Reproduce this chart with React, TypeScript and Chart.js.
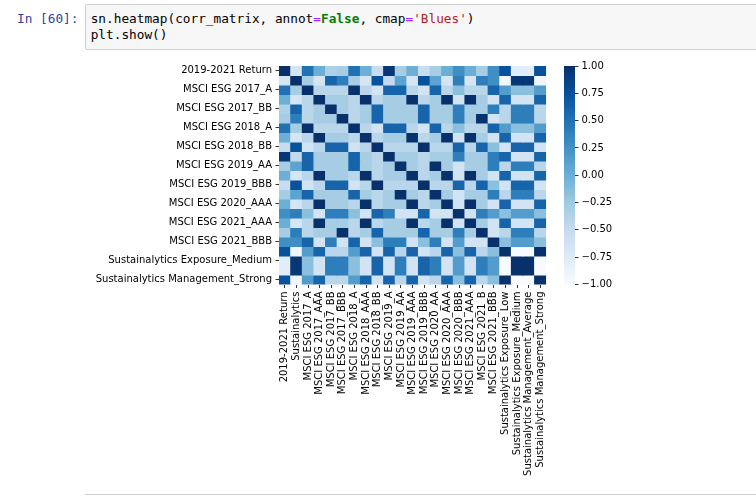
import React, { useEffect, useRef } from 'react';
import { Chart, registerables } from 'chart.js';

Chart.register(...registerables);

// ---------- data ----------
const variables = [
  '2019-2021 Return',
  'Sustainalytics',
  'MSCI ESG 2017_A',
  'MSCI ESG 2017_AAA',
  'MSCI ESG 2017_BB',
  'MSCI ESG 2017_BBB',
  'MSCI ESG 2018_A',
  'MSCI ESG 2018_AAA',
  'MSCI ESG 2018_BB',
  'MSCI ESG 2019_A',
  'MSCI ESG 2019_AA',
  'MSCI ESG 2019_AAA',
  'MSCI ESG 2019_BBB',
  'MSCI ESG 2020_AA',
  'MSCI ESG 2020_AAA',
  'MSCI ESG 2020_BBB',
  'MSCI ESG 2021_AAA',
  'MSCI ESG 2021_B',
  'MSCI ESG 2021_BBB',
  'Sustainalytics Exposure_Low',
  'Sustainalytics Exposure_Medium',
  'Sustainalytics Management_Average',
  'Sustainalytics Management_Strong',
];

const yTickLabels = [
  '2019-2021 Return',
  'MSCI ESG 2017_A',
  'MSCI ESG 2017_BB',
  'MSCI ESG 2018_A',
  'MSCI ESG 2018_BB',
  'MSCI ESG 2019_AA',
  'MSCI ESG 2019_BBB',
  'MSCI ESG 2020_AAA',
  'MSCI ESG 2021_AAA',
  'MSCI ESG 2021_BBB',
  'Sustainalytics Exposure_Medium',
  'Sustainalytics Management_Strong',
];

const colorbarTicks = [1, 0.75, 0.5, 0.25, 0, -0.25, -0.5, -0.75, -1];

const bluesStops = ['#f7fbff', '#deebf7', '#c6dbef', '#9ecae1', '#6baed6', '#4292c6', '#2171b5', '#08519c', '#08306b'];

// correlation rows
const corrReturn = [1, -0.65, 0.5, 0, -0.35, -0.3, 0.5, 0, -0.52, 0.95, -0.3, 0, -0.52, -0.3, 0, 0.27, 0, -0.3, 0.27, 0.75, -0.78, -0.78, 0.75];
const corrSustainalytics = [-0.65, 1, -0.3, -0.66, 0.6, 0.4, -0.3, -0.66, 0.75, -0.48, 0.1, -0.66, 0.75, 0.1, -0.66, 0.4, -0.66, 0.4, 0.27, -0.92, 0.95, 0.95, -0.92];
const corr2017A = [0.5, -0.3, 1, -0.42, -0.42, -0.42, 1, -0.42, -0.62, 0.6, 0.6, -0.42, -0.62, 0.6, -0.42, -0.15, -0.42, -0.42, 0.6, 0.15, -0.15, -0.15, 0.15];
const corr2017AAA = [0, -0.66, -0.42, 1, -0.3, -0.3, -0.42, 1, -0.42, -0.3, -0.3, 1, -0.42, -0.3, 1, -0.62, 1, -0.3, -0.62, 0.6, -0.62, -0.62, 0.6];
const corr2017BB = [-0.35, 0.6, -0.42, -0.3, 1, -0.3, -0.42, -0.3, 0.6, -0.3, -0.3, -0.3, 0.6, -0.3, -0.3, 0.4, -0.3, -0.3, 0.4, -0.42, 0.4, 0.4, -0.42];
const corr2017BBB = [-0.3, 0.4, -0.42, -0.3, -0.3, 1, -0.42, -0.3, 0.6, -0.3, -0.3, -0.3, 0.6, -0.3, -0.3, 0.4, -0.3, 1, -0.62, -0.42, 0.4, 0.4, -0.42];
const corr2018A = [0.5, -0.3, 1, -0.42, -0.42, -0.42, 1, -0.42, -0.62, 0.6, 0.6, -0.42, -0.62, 0.6, -0.42, -0.15, -0.42, -0.42, 0.6, 0.15, -0.15, -0.15, 0.15];
const corr2018AAA = [0, -0.66, -0.42, 1, -0.3, -0.3, -0.42, 1, -0.42, -0.3, -0.3, 1, -0.42, -0.3, 1, -0.62, 1, -0.3, -0.62, 0.6, -0.62, -0.62, 0.6];
const corr2018BB = [-0.52, 0.75, -0.62, -0.42, 0.6, 0.6, -0.62, -0.42, 1, -0.42, -0.42, -0.42, 1, -0.42, -0.42, 0.6, -0.42, 0.6, -0.15, -0.62, 0.6, 0.6, -0.62];
const corr2019A = [0.95, -0.48, 0.6, -0.3, -0.3, -0.3, 0.6, -0.3, -0.42, 1, -0.3, -0.3, -0.42, -0.3, -0.3, 0.4, -0.3, -0.3, 0.4, 0.6, -0.62, -0.62, 0.6];
const corr2019AA = [-0.3, 0.1, 0.6, -0.3, -0.3, -0.3, 0.6, -0.3, -0.42, -0.3, 1, -0.3, -0.42, 1, -0.3, -0.62, -0.3, -0.3, 0.4, -0.42, 0.4, 0.4, -0.42];
const corr2019AAA = [0, -0.66, -0.42, 1, -0.3, -0.3, -0.42, 1, -0.42, -0.3, -0.3, 1, -0.42, -0.3, 1, -0.62, 1, -0.3, -0.62, 0.6, -0.62, -0.62, 0.6];
const corr2019BBB = [-0.52, 0.75, -0.62, -0.42, 0.6, 0.6, -0.62, -0.42, 1, -0.42, -0.42, -0.42, 1, -0.42, -0.42, 0.6, -0.42, 0.6, -0.15, -0.62, 0.6, 0.6, -0.62];
const corr2020AA = [-0.3, 0.1, 0.6, -0.3, -0.3, -0.3, 0.6, -0.3, -0.42, -0.3, 1, -0.3, -0.42, 1, -0.3, -0.62, -0.3, -0.3, 0.4, -0.42, 0.4, 0.4, -0.42];
const corr2020AAA = [0, -0.66, -0.42, 1, -0.3, -0.3, -0.42, 1, -0.42, -0.3, -0.3, 1, -0.42, -0.3, 1, -0.62, 1, -0.3, -0.62, 0.6, -0.62, -0.62, 0.6];
const corr2020BBB = [0.27, 0.4, -0.15, -0.62, 0.4, 0.4, -0.15, -0.62, 0.6, 0.4, -0.62, -0.62, 0.6, -0.62, -0.62, 1, -0.62, 0.4, 0.15, -0.15, 0.15, 0.15, -0.15];
const corr2021AAA = [0, -0.66, -0.42, 1, -0.3, -0.3, -0.42, 1, -0.42, -0.3, -0.3, 1, -0.42, -0.3, 1, -0.62, 1, -0.3, -0.62, 0.6, -0.62, -0.62, 0.6];
const corr2021B = [-0.3, 0.4, -0.42, -0.3, -0.3, 1, -0.42, -0.3, 0.6, -0.3, -0.3, -0.3, 0.6, -0.3, -0.3, 0.4, -0.3, 1, -0.62, -0.42, 0.4, 0.4, -0.42];
const corr2021BBB = [0.27, 0.27, 0.6, -0.62, 0.4, -0.62, 0.6, -0.62, -0.15, 0.4, 0.4, -0.62, -0.15, 0.4, -0.62, 0.15, -0.62, -0.62, 1, -0.15, 0.15, 0.15, -0.15];
const corrExposureLow = [0.75, -0.92, 0.15, 0.6, -0.42, -0.42, 0.15, 0.6, -0.62, 0.6, -0.42, 0.6, -0.62, -0.42, 0.6, -0.15, 0.6, -0.42, -0.15, 1, -1, -1, 1];
const corrExposureMedium = [-0.78, 0.95, -0.15, -0.62, 0.4, 0.4, -0.15, -0.62, 0.6, -0.62, 0.4, -0.62, 0.6, 0.4, -0.62, 0.15, -0.62, 0.4, 0.15, -1, 1, 1, -1];
const corrManagementAverage = [-0.78, 0.95, -0.15, -0.62, 0.4, 0.4, -0.15, -0.62, 0.6, -0.62, 0.4, -0.62, 0.6, 0.4, -0.62, 0.15, -0.62, 0.4, 0.15, -1, 1, 1, -1];
const corrManagementStrong = [0.75, -0.92, 0.15, 0.6, -0.42, -0.42, 0.15, 0.6, -0.62, 0.6, -0.42, 0.6, -0.62, -0.42, 0.6, -0.15, 0.6, -0.42, -0.15, 1, -1, -1, 1];

const corrRows = [
  corrReturn, corrSustainalytics, corr2017A, corr2017AAA, corr2017BB, corr2017BBB,
  corr2018A, corr2018AAA, corr2018BB, corr2019A, corr2019AA, corr2019AAA, corr2019BBB,
  corr2020AA, corr2020AAA, corr2020BBB, corr2021AAA, corr2021B, corr2021BBB,
  corrExposureLow, corrExposureMedium, corrManagementAverage, corrManagementStrong,
];

// ---------- helpers ----------
function hexToRgb(h: string) {
  return [parseInt(h.slice(1, 3), 16), parseInt(h.slice(3, 5), 16), parseInt(h.slice(5, 7), 16)];
}
function blues(v: number) {
  const n = bluesStops.length - 1;
  const t = Math.min(1, Math.max(0, (v + 1) / 2)) * n;
  const i = Math.min(n - 1, Math.floor(t));
  const f = t - i;
  const a = hexToRgb(bluesStops[i]);
  const b = hexToRgb(bluesStops[i + 1]);
  const c = a.map((x, k) => Math.round(x + (b[k] - x) * f));
  return `rgb(${c[0]},${c[1]},${c[2]})`;
}

const tickFont = { family: "'DejaVu Sans', sans-serif", size: 10 };
const monoFont = "'DejaVu Sans Mono', 'Liberation Mono', monospace";

export default function App() {
  const heatRef = useRef<HTMLCanvasElement | null>(null);
  const barRef = useRef<HTMLCanvasElement | null>(null);

  useEffect(() => {
    const heat = new Chart(heatRef.current as HTMLCanvasElement, {
      type: 'bar',
      data: {
        labels: variables,
        datasets: corrRows.map((row, r) => ({
          data: row.map(() => [r, r + 1]),
          backgroundColor: row.map((v) => blues(v)),
          borderWidth: 0,
          grouped: false,
          barPercentage: 1,
          categoryPercentage: 1,
          inflateAmount: 0.4,
        })) as any,
      },
      options: {
        responsive: false,
        animation: false,
        events: [],
        layout: { padding: { left: 90, top: 66, right: 8.3, bottom: 11.5 } },
        plugins: { legend: { display: false }, tooltip: { enabled: false } },
        scales: {
          x: {
            type: 'category',
            offset: true,
            border: { display: false },
            grid: {
              display: true,
              drawOnChartArea: false,
              drawTicks: true,
              tickLength: 3.5,
              tickColor: '#000',
              lineWidth: 0.8,
              offset: false,
            },
            ticks: {
              autoSkip: false,
              maxRotation: 90,
              minRotation: 90,
              padding: 3.5,
              color: '#000',
              font: tickFont,
            },
            afterFit: (s: any) => {
              s.height = 200;
            },
          },
          y: {
            type: 'linear',
            min: 0,
            max: variables.length,
            reverse: true,
            border: { display: false },
            grid: {
              display: true,
              drawOnChartArea: false,
              drawTicks: true,
              tickLength: 3.5,
              tickColor: '#000',
              lineWidth: 0.8,
            },
            afterBuildTicks: (axis: any) => {
              axis.ticks = yTickLabels.map((l) => ({ value: variables.indexOf(l) + 0.5 }));
            },
            ticks: {
              autoSkip: false,
              padding: 3.5,
              color: '#000',
              font: tickFont,
              callback: (value: any) => variables[Math.floor(Number(value))],
            },
            afterFit: (s: any) => {
              s.width = 189;
            },
          },
        },
      } as any,
    });

    const bar = new Chart(barRef.current as HTMLCanvasElement, {
      type: 'bar',
      data: {
        labels: [''],
        datasets: [
          {
            data: [[Math.min(...colorbarTicks), Math.max(...colorbarTicks)]],
            backgroundColor: (ctx: any) => {
              const chart = ctx.chart;
              const ys = chart.scales.y;
              if (!ys || !chart.chartArea) return bluesStops[4];
              const y0 = ys.getPixelForValue(-1);
              const y1 = ys.getPixelForValue(1);
              const g = chart.ctx.createLinearGradient(0, y0, 0, y1);
              bluesStops.forEach((c, i) => g.addColorStop(i / (bluesStops.length - 1), c));
              return g;
            },
            borderWidth: 0,
            barPercentage: 1,
            categoryPercentage: 1,
          },
        ] as any,
      },
      options: {
        responsive: false,
        animation: false,
        events: [],
        layout: { padding: { left: 8, top: 66, right: 131, bottom: 211.5 } },
        plugins: { legend: { display: false }, tooltip: { enabled: false } },
        scales: {
          x: { display: false },
          y: {
            type: 'linear',
            position: 'right',
            min: -1,
            max: 1,
            border: { display: false },
            grid: {
              display: true,
              drawOnChartArea: false,
              drawTicks: true,
              tickLength: 3.5,
              tickColor: '#000',
              lineWidth: 0.8,
            },
            afterBuildTicks: (axis: any) => {
              axis.ticks = colorbarTicks.map((v) => ({ value: v }));
            },
            ticks: {
              autoSkip: false,
              padding: 3,
              color: '#000',
              font: tickFont,
              callback: (value: any) => {
                const v = Number(value);
                return (v < 0 ? '\u2212' : '') + Math.abs(v).toFixed(2);
              },
            },
            afterFit: (s: any) => {
              s.width = 50;
            },
          },
        },
      } as any,
    });

    return () => {
      heat.destroy();
      bar.destroy();
    };
  }, []);

  const codeLine: React.CSSProperties = { height: 16, lineHeight: '16px', whiteSpace: 'pre' };

  return (
    <div style={{ position: 'fixed', left: 0, top: 0, width: 756, height: 496, background: '#fff', overflow: 'hidden' }}>
      <div
        style={{
          position: 'absolute',
          left: 17,
          top: 11,
          lineHeight: '16px',
          fontFamily: monoFont,
          fontSize: 12.75,
          color: '#303F9F',
          whiteSpace: 'pre',
        }}
      >
        In [60]:
      </div>
      <div
        style={{
          position: 'absolute',
          left: 85,
          top: 4,
          width: 700,
          height: 44,
          border: '1px solid #cfcfcf',
          borderRadius: 2,
          background: '#f7f7f7',
          boxSizing: 'content-box',
        }}
      >
        <div style={{ position: 'absolute', left: 4.7, top: 6, fontFamily: monoFont, fontSize: 12.75, color: '#000' }}>
          <div style={codeLine}>
            sn.heatmap(corr_matrix, annot<span style={{ color: '#AA22FF' }}>=</span>
            <span style={{ color: '#008000', fontWeight: 'bold' }}>False</span>, cmap
            <span style={{ color: '#AA22FF' }}>=</span>
            <span style={{ color: '#BA2121' }}>'Blues'</span>)
          </div>
          <div style={codeLine}>plt.show()</div>
        </div>
      </div>
      <canvas
        ref={heatRef}
        width={556}
        height={496}
        style={{ position: 'absolute', left: 0, top: 0, width: 556, height: 496 }}
      />
      <canvas
        ref={barRef}
        width={200}
        height={496}
        style={{ position: 'absolute', left: 556, top: 0, width: 200, height: 496 }}
      />
      <div style={{ position: 'absolute', left: 85, top: 494, width: 700, borderTop: '1px solid #cfcfcf' }} />
    </div>
  );
}
